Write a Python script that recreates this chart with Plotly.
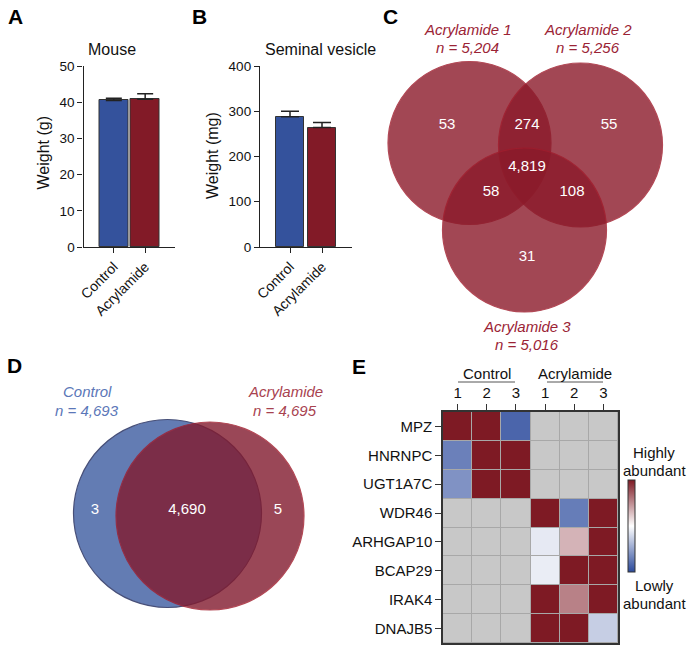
import plotly.graph_objects as go

W, H = 688, 647
FONT = "Liberation Sans, Arial, sans-serif"

# ---------------- data ----------------
groups = ["Control", "Acrylamide"]
mouse_weight = [40.5, 40.8]          # g
mouse_err = [0.6, 1.5]
sv_weight = [288, 264]               # mg
sv_err = [12, 11]
bar_colors = ["#34529c", "#821a27"]

venn3_names = ["Acrylamide 1", "Acrylamide 2", "Acrylamide 3"]
venn3_n = [5204, 5256, 5016]
venn3_regions = ["1", "12", "2", "123", "13", "23", "3"]
venn3_counts = [53, 274, 55, 4819, 58, 108, 31]

venn2_names = ["Control", "Acrylamide"]
venn2_n = [4693, 4695]
venn2_regions = ["C", "CA", "A"]
venn2_counts = [3, 4690, 5]

genes = ["MPZ", "HNRNPC", "UGT1A7C", "WDR46", "ARHGAP10", "BCAP29", "IRAK4", "DNAJB5"]
sample_groups = ["Control", "Acrylamide"]
sample_labels = ["1", "2", "3", "1", "2", "3"]
N = None
abundance = [
    [1.0, 1.0, -0.85, N, N, N],
    [-0.70, 1.0, 1.0, N, N, N],
    [-0.60, 1.0, 1.0, N, N, N],
    [N, N, N, 1.0, -0.72, 1.0],
    [N, N, N, -0.12, 0.33, 1.0],
    [N, N, N, -0.10, 1.0, 1.0],
    [N, N, N, 1.0, 0.55, 1.0],
    [N, N, N, 1.0, 1.0, -0.27],
]

# ---------------- layout helpers (pixel geometry) ----------------
def fx(x):
    return x / W

def fy(y):
    return 1 - y / H

fig = go.Figure()

# ---- Panel A & B bars ----
xpos = list(range(len(groups)))
fig.add_trace(go.Bar(
    x=xpos, y=mouse_weight, width=0.91,
    marker=dict(color=bar_colors, line=dict(color="#333", width=1)),
    error_y=dict(type="data", array=mouse_err, arrayminus=[0] * len(groups),
                 symmetric=False, color="#222", thickness=1.5, width=8),
    xaxis="x", yaxis="y", showlegend=False, hoverinfo="skip"))
fig.add_trace(go.Bar(
    x=xpos, y=sv_weight, width=0.875,
    marker=dict(color=bar_colors, line=dict(color="#333", width=1)),
    error_y=dict(type="data", array=sv_err, arrayminus=[0] * len(groups),
                 symmetric=False, color="#222", thickness=1.5, width=9),
    xaxis="x2", yaxis="y2", showlegend=False, hoverinfo="skip"))

# ---- Panel E heatmap ----
missing = [[1 if v is None else None for v in row] for row in abundance]
cols = list(range(len(sample_labels)))
fig.add_trace(go.Heatmap(
    z=missing, x=cols, y=genes, colorscale=[[0, "#c8c8c8"], [1, "#c8c8c8"]],
    showscale=False, xgap=1, ygap=1, xaxis="x3", yaxis="y3", hoverinfo="skip"))
fig.add_trace(go.Heatmap(
    z=abundance, x=cols, y=genes, zmin=-1, zmax=1,
    colorscale=[[0, "#2b4a9c"], [0.5, "#ffffff"], [1, "#7e1a24"]],
    xgap=1, ygap=1, xaxis="x3", yaxis="y3", hoverinfo="skip",
    colorbar=dict(x=fx(628), xanchor="left", y=fy(572), yanchor="bottom",
                  len=92 / H, lenmode="fraction", thickness=7, xpad=0, ypad=0,
                  showticklabels=False, ticks="", outlinewidth=1, outlinecolor="#333")))

# ---- Venn count labels (overlay pixel axis) ----
venn3_pos = {"1": (447, 125), "12": (527, 125), "2": (609, 125), "123": (527, 167),
             "13": (491, 192), "23": (572, 192), "3": (527, 257)}
venn2_pos = {"C": (95, 510), "CA": (187, 510), "A": (278, 510)}
fig.add_trace(go.Scatter(
    x=[venn3_pos[r][0] for r in venn3_regions] + [venn2_pos[r][0] for r in venn2_regions],
    y=[venn3_pos[r][1] for r in venn3_regions] + [venn2_pos[r][1] for r in venn2_regions],
    text=[f"{c:,}" for c in venn3_counts] + [f"{c:,}" for c in venn2_counts],
    mode="text", textfont=dict(color="white", size=15, family=FONT),
    xaxis="x4", yaxis="y4", showlegend=False, hoverinfo="skip"))

shapes = []
# Venn circles C
venn3_circles = [(469.5, 143, 81.5), (580.5, 145, 82), (524.5, 230, 82)]
for cx, cy, r in venn3_circles:
    shapes.append(dict(type="circle", xref="x4", yref="y4", x0=cx - r, x1=cx + r,
                       y0=cy - r, y1=cy + r, fillcolor="#8b1a2a", opacity=0.8,
                       line=dict(color="#a01c2c", width=1.2), layer="below"))
# Venn circles D
venn2_circles = [(167.5, 513.5, 94, "#3d5ca1", "#1a2457"), (210, 516, 94, "#821a2e", "#a01c2c")]
for cx, cy, r, fc, lc in venn2_circles:
    shapes.append(dict(type="circle", xref="x4", yref="y4", x0=cx - r, x1=cx + r,
                       y0=cy - r, y1=cy + r, fillcolor=fc, opacity=0.8,
                       line=dict(color=lc, width=1.2), layer="below"))
# heatmap gap colour
shapes.append(dict(type="rect", xref="x3 domain", yref="y3 domain", x0=0, x1=1, y0=0, y1=1,
                   fillcolor="#a8a8a8", line=dict(width=0), layer="below"))
# group underline
for x0, x1 in [(458, 515), (547, 603)]:
    shapes.append(dict(type="line", xref="x4", yref="y4", x0=x0, x1=x1, y0=382, y1=382,
                       line=dict(color="#555", width=1)))

annotations = []

def ann(text, x, y, size=15, color="#111", angle=0, xanchor="center"):
    annotations.append(dict(text=text, x=x, y=y, xref="x4", yref="y4", showarrow=False,
                            xanchor=xanchor, yanchor="middle", textangle=angle,
                            font=dict(size=size, color=color, family=FONT)))

for lab, x, y in [("A", 15, 16), ("B", 199.5, 16), ("C", 390, 16), ("D", 14.5, 365), ("E", 359, 366)]:
    ann(f"<b>{lab}</b>", x, y, size=21, color="#000")

ann("Mouse", 112, 49, size=16)
ann("Seminal vesicle", 320, 49, size=16)
ann("Weight (g)", 42.5, 153, size=16, angle=-90)
ann("Weight (mg)", 212, 156, size=16, angle=-90)

c3col = "#9b2335"
for name, n, (x, y) in zip(venn3_names, venn3_n, [(467.5, 29), (588, 29), (527, 326)]):
    ann(f"<i>{name}</i>", x, y, color=c3col)
    ann(f"<i>n = {n:,}</i>", x, y + 18.5, color=c3col)

for name, n, (x, y), col in zip(venn2_names, venn2_n, [(87, 391), (285, 391)], ["#5b77b8", "#a8424f"]):
    ann(f"<i>{name}</i>", x, y, color=col)
    ann(f"<i>n = {n:,}</i>", x, y + 19, color=col)

for g, x in zip(sample_groups, [487, 575]):
    ann(g, x, 373)
ann("Highly", 654, 452)
ann("abundant", 654, 470)
ann("Lowly", 654, 585)
ann("abundant", 654, 603)

ax_common = dict(showgrid=False, zeroline=False, showline=True, linecolor="#222", linewidth=1.3,
                 ticks="outside", ticklen=5, tickcolor="#222", tickwidth=1.3,
                 tickfont=dict(size=13.5, family=FONT, color="#111"))

fig.update_layout(
    width=W, height=H, margin=dict(l=0, r=0, t=0, b=0, pad=0, autoexpand=False),
    paper_bgcolor="white", plot_bgcolor="rgba(0,0,0,0)",
    font=dict(family=FONT, color="#111"),
    showlegend=False, bargap=0,
    xaxis=dict(ax_common, domain=[fx(83.5), fx(175)], range=[-0.968, 1.952], anchor="y",
               tickvals=xpos, ticktext=groups, tickangle=-45, tickfont=dict(size=14, family=FONT)),
    yaxis=dict(ax_common, domain=[fy(247), fy(66)], range=[0, 50], dtick=10, anchor="x"),
    xaxis2=dict(ax_common, domain=[fx(260), fx(352)], range=[-0.9375, 1.9375], anchor="y2",
                tickvals=xpos, ticktext=groups, tickangle=-45, tickfont=dict(size=14, family=FONT)),
    yaxis2=dict(ax_common, domain=[fy(247), fy(66)], range=[0, 400], dtick=100, anchor="x2"),
    xaxis3=dict(domain=[fx(443), fx(618)], range=[-0.5, 5.5], anchor="y3", side="top",
                tickvals=cols, ticktext=sample_labels, ticks="outside", ticklen=6,
                tickcolor="#333", showgrid=False, zeroline=False, showline=True, mirror=True,
                linecolor="#333", linewidth=1.5, tickfont=dict(size=15, family=FONT)),
    yaxis3=dict(domain=[fy(643), fy(412)], range=[len(genes) - 0.5, -0.5], anchor="x3",
                type="category", ticks="outside", ticklen=6, tickcolor="#333", showgrid=False,
                zeroline=False, showline=True, mirror=True, linecolor="#333", linewidth=1.5,
                tickfont=dict(size=15, family=FONT)),
    xaxis4=dict(domain=[0, 1], range=[0, W], visible=False, anchor="y4"),
    yaxis4=dict(domain=[0, 1], range=[H, 0], visible=False, anchor="x4"),
    shapes=shapes, annotations=annotations,
)

fig.write_html("out.html", config={"displayModeBar": False},
               post_script="document.body.style.margin='0';document.body.style.overflow='hidden';")
